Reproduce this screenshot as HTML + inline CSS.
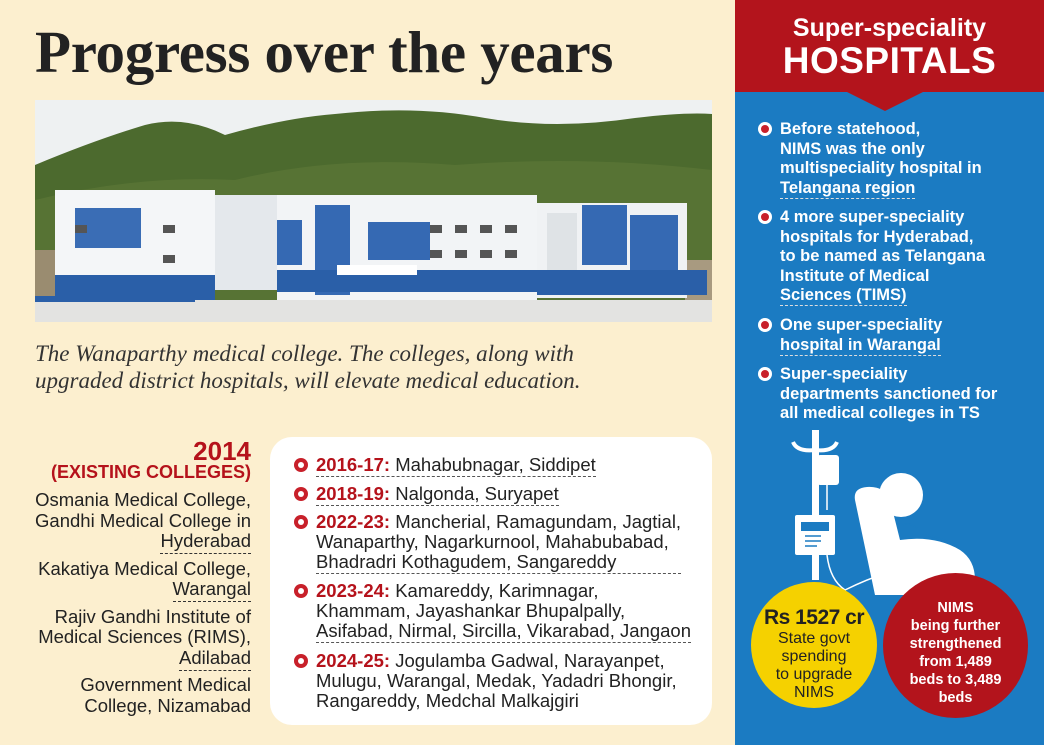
<!DOCTYPE html>
<html><head><meta charset="utf-8"><style>
*{margin:0;padding:0;box-sizing:border-box}
body{width:1044px;height:745px;overflow:hidden;background:#fcefcf;font-family:"Liberation Sans",sans-serif;position:relative}
.abs{position:absolute}
.title{left:35px;top:18px;font-family:"Liberation Serif",serif;font-weight:bold;font-size:59px;color:#222;letter-spacing:-0.3px;white-space:nowrap}
.cap{left:35px;top:340px;font-family:"Liberation Serif",serif;font-style:italic;font-size:23px;line-height:27px;color:#333}
.left{right:793px;top:490px;text-align:right;font-size:18.5px;line-height:20.5px;color:#222;width:240px}
.left div{padding-bottom:3px;margin-bottom:4px}
.left .u span{border-bottom:1px dashed #333;padding-bottom:2px}
.box{left:270px;top:437px;width:442px;height:288px;background:#fff;border-radius:22px}
.tl{position:absolute;left:316px;font-size:18.5px;line-height:20px;color:#222;width:395px}
.tl b{color:#b5121b}
.dot{position:absolute;left:-22px;top:3px;width:14px;height:14px;border-radius:50%;background:#c8202a}
.dot:after{content:"";position:absolute;left:4px;top:4px;width:6px;height:6px;border-radius:50%;background:#fff}
.tl .d{border-bottom:1px dashed #555;display:inline-block;padding-bottom:1px}
.right{left:735px;top:0;width:309px;height:745px;background:#1b7bc2}
.red{left:735px;top:0;width:309px;height:92px;background:#b3141c}
.rt{color:#fff;font-weight:bold;font-size:16.5px;line-height:19.5px;left:780px;width:262px}
.rt .u{border-bottom:1px dashed #ddd;padding-bottom:1px}
.rdot{position:absolute;left:-22px;top:2px;width:14px;height:14px;border-radius:50%;background:#fff}
.rdot:after{content:"";position:absolute;left:3px;top:3px;width:8px;height:8px;border-radius:50%;background:#c8202a}
</style></head><body>
<div class="abs title">Progress over the years</div>
<svg class="abs" style="left:35px;top:100px" width="677" height="222" viewBox="0 0 677 222">
<rect width="677" height="222" fill="#eef1f2"/>
<path d="M0 65 Q60 40 110 25 Q150 15 190 35 Q250 18 300 14 Q380 5 450 18 Q520 30 600 18 Q650 12 677 14 L677 200 L0 200Z" fill="#4c6a2e"/>
<path d="M0 100 Q100 75 200 80 Q300 55 420 65 Q550 55 677 70 L677 200 L0 200Z" fill="#5a7636" opacity="0.8"/>
<rect x="0" y="150" width="30" height="50" fill="#9a8c70"/>
<rect x="650" y="160" width="27" height="40" fill="#a89a80"/>
<rect x="20" y="90" width="160" height="110" fill="#f4f6f8"/>
<rect x="40" y="108" width="66" height="40" fill="#3a6db5"/>
<rect x="20" y="175" width="160" height="25" fill="#2a5fa8"/>
<rect x="180" y="95" width="62" height="95" fill="#e4e8ec"/>
<rect x="242" y="95" width="260" height="105" fill="#f2f4f6"/>
<rect x="242" y="120" width="25" height="45" fill="#3569b3"/>
<rect x="280" y="105" width="35" height="90" fill="#3569b3"/>
<rect x="333" y="122" width="62" height="38" fill="#3569b3"/>
<rect x="242" y="170" width="260" height="22" fill="#2a5fa8"/>
<rect x="302" y="165" width="80" height="10" fill="#fff"/>
<rect x="502" y="103" width="150" height="95" fill="#f0f2f4"/>
<rect x="512" y="113" width="30" height="75" fill="#dfe3e6"/>
<rect x="547" y="105" width="45" height="60" fill="#3569b3"/>
<rect x="595" y="115" width="48" height="55" fill="#3569b3"/>
<rect x="502" y="170" width="170" height="25" fill="#2a5fa8"/>
<g fill="#555"><rect x="40" y="125" width="12" height="8"/><rect x="128" y="125" width="12" height="8"/><rect x="128" y="155" width="12" height="8"/><rect x="395" y="125" width="12" height="8"/><rect x="420" y="125" width="12" height="8"/><rect x="445" y="125" width="12" height="8"/><rect x="470" y="125" width="12" height="8"/><rect x="395" y="150" width="12" height="8"/><rect x="420" y="150" width="12" height="8"/><rect x="445" y="150" width="12" height="8"/><rect x="470" y="150" width="12" height="8"/></g>
<rect x="0" y="200" width="677" height="22" fill="#e3e3e1"/>
<rect x="0" y="196" width="160" height="6" fill="#2a5fa8"/>
</svg>
<div class="abs cap">The Wanaparthy medical college. The colleges, along with<br>upgraded district hospitals, will elevate medical education.</div>
<div class="abs" style="right:793px;top:436px;color:#b5121b;font-weight:bold;font-size:26px;text-align:right">2014</div>
<div class="abs" style="right:793px;top:462px;color:#b5121b;font-weight:bold;font-size:18px;text-align:right;white-space:nowrap">(EXISTING COLLEGES)</div>
<div class="abs left">
<div class="u">Osmania Medical College,<br>Gandhi Medical College in<br><span>Hyderabad</span></div>
<div class="u">Kakatiya Medical College,<br><span>Warangal</span></div>
<div class="u">Rajiv Gandhi Institute of<br>Medical Sciences (RIMS),<br><span>Adilabad</span></div>
<div>Government Medical<br>College, Nizamabad</div>
</div>
<div class="abs box"></div>
<div class="tl" style="top:455px"><i class="dot"></i><span class="d"><b>2016-17:</b> Mahabubnagar, Siddipet</span></div>
<div class="tl" style="top:484px"><i class="dot"></i><span class="d"><b>2018-19:</b> Nalgonda, Suryapet</span></div>
<div class="tl" style="top:512px"><i class="dot"></i><span class="d"><b>2022-23:</b> Mancherial, Ramagundam, Jagtial,<br>Wanaparthy, Nagarkurnool, Mahabubabad,<br>Bhadradri Kothagudem, Sangareddy</span></div>
<div class="tl" style="top:581px"><i class="dot"></i><span class="d"><b>2023-24:</b> Kamareddy, Karimnagar,<br>Khammam, Jayashankar Bhupalpally,<br>Asifabad, Nirmal, Sircilla, Vikarabad, Jangaon</span></div>
<div class="tl" style="top:651px"><i class="dot"></i><b>2024-25:</b> Jogulamba Gadwal, Narayanpet,<br>Mulugu, Warangal, Medak, Yadadri Bhongir,<br>Rangareddy, Medchal Malkajgiri</div>

<div class="abs right"></div>
<div class="abs red"></div>
<svg class="abs" style="left:845px;top:91px" width="80" height="22"><path d="M0 0 L80 0 L40 20Z" fill="#b3141c"/></svg>
<div class="abs" style="left:735px;width:309px;top:14px;text-align:center;color:#fff;font-weight:bold;font-size:25px">Super-speciality</div>
<div class="abs" style="left:735px;width:309px;top:40px;text-align:center;color:#fff;font-weight:bold;font-size:37px;letter-spacing:0.5px">HOSPITALS</div>
<div class="abs rt" style="top:120px"><i class="rdot"></i>Before statehood,<br>NIMS was the only<br>multispeciality hospital in<br><span class="u">Telangana region</span></div>
<div class="abs rt" style="top:208px"><i class="rdot"></i><span style="font-weight:900">4 more</span> super-speciality<br>hospitals for Hyderabad,<br>to be named as Telangana<br>Institute of Medical<br><span class="u">Sciences (TIMS)</span></div>
<div class="abs rt" style="top:316px"><i class="rdot"></i>One super-speciality<br><span class="u">hospital in Warangal</span></div>
<div class="abs rt" style="top:365px"><i class="rdot"></i>Super-speciality<br>departments sanctioned for<br>all medical colleges in TS</div>
<svg class="abs" style="left:735px;top:420px" width="309" height="325">
<g fill="#fff">
<rect x="77" y="10" width="7" height="150"/>
<path d="M58 22 Q62 32 80 30 Q98 32 102 22" fill="none" stroke="#fff" stroke-width="4"/>
<rect x="82" y="35" width="22" height="30" rx="3"/>
<rect x="60" y="95" width="40" height="40" rx="2"/>
<path d="M120 80 Q118 68 132 67 Q150 66 155 80 L165 120 Q200 115 225 130 Q240 140 240 160 L240 175 L140 175 Z"/>
<circle cx="166" cy="75" r="22"/>
</g>
<rect x="66" y="102" width="28" height="9" fill="#1b7bc2"/>
<g stroke="#1b7bc2" stroke-width="1.5" fill="none"><path d="M70 116h16M70 121h16M70 126h12"/><path d="M168 105 Q175 100 190 115 Q215 120 225 128"/></g>
<path d="M92 65 V90 M92 135 Q95 160 110 170 Q150 150 200 140" stroke="#fff" stroke-width="1.5" fill="none"/>
</svg>
<div class="abs" style="left:751px;top:582px;width:126px;height:126px;border-radius:50%;background:#f5d100"></div>
<div class="abs" style="left:751px;width:126px;top:606px;text-align:center;font-size:16px;line-height:18px;color:#222"><b style="font-size:21px;line-height:24px;letter-spacing:-0.5px">Rs 1527 cr</b><br>State govt<br>spending<br>to upgrade<br>NIMS</div>
<div class="abs" style="left:883px;top:573px;width:145px;height:145px;border-radius:50%;background:#b3141c"></div>
<div class="abs" style="left:883px;width:145px;top:599px;text-align:center;font-size:14.5px;line-height:18px;color:#fff;font-weight:bold">NIMS<br>being further<br>strengthened<br>from 1,489<br>beds to 3,489<br>beds</div>
</body></html>
